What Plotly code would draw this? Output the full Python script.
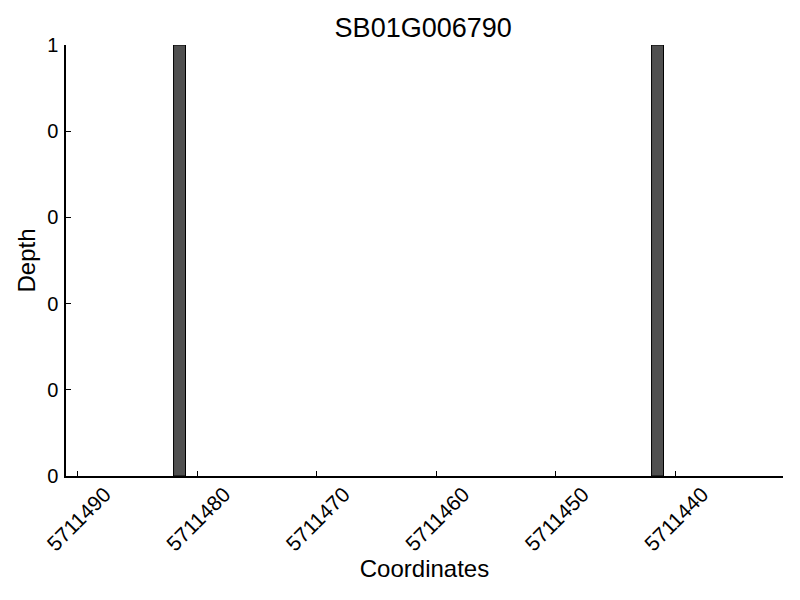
import plotly.graph_objects as go

# Depth per coordinate (bars are edge-aligned, width 1)
coordinates = [5711481, 5711441]
depth = [1, 1]

y_tickvals = [0, 0.2, 0.4, 0.6, 0.8, 1.0]
y_ticktext = ["0", "0", "0", "0", "0", "1"]
x_tickvals = [5711490, 5711480, 5711470, 5711460, 5711450, 5711440]

FONT = "Liberation Sans, Arial, sans-serif"

fig = go.Figure()
fig.add_trace(go.Bar(
    x=coordinates,
    y=depth,
    width=1,
    offset=0,
    marker_color="#505050",
    marker_line=dict(color="black", width=1),
))

# page body adds an 8px offset, so margins are shifted to compensate
fig.update_layout(
    width=800,
    height=600,
    font=dict(family=FONT, size=20, color="black"),
    plot_bgcolor="white",
    paper_bgcolor="white",
    margin=dict(l=58, r=25, t=37, b=132, autoexpand=False),
    showlegend=False,
    title=dict(text="SB01G006790", x=0.519, xanchor="center", y=0.968, yanchor="middle",
               font=dict(size=27)),
    xaxis=dict(
        range=[5711491, 5711431],
        tickvals=x_tickvals,
        ticktext=[str(v) for v in x_tickvals],
        tickangle=-45,
        tickfont=dict(size=21),
        ticks="inside",
        ticklen=5,
        tickcolor="black",
        showline=True,
        linecolor="black",
        linewidth=1.5,
        showgrid=False,
        zeroline=False,
        automargin=False,
        ticklabelshift=-27,
        ticklabelstandoff=-4,
        title=dict(text="Coordinates", font=dict(size=24), standoff=0),
    ),
    yaxis=dict(
        range=[0, 1],
        tickvals=y_tickvals,
        ticktext=y_ticktext,
        tickfont=dict(size=20),
        ticks="inside",
        ticklen=5,
        tickcolor="black",
        showline=True,
        linecolor="black",
        linewidth=1.5,
        showgrid=False,
        zeroline=False,
        automargin=False,
        ticklabelstandoff=2,
        title=dict(text="Depth", font=dict(size=24), standoff=5),
    ),
)

fig.write_html("out.html")
